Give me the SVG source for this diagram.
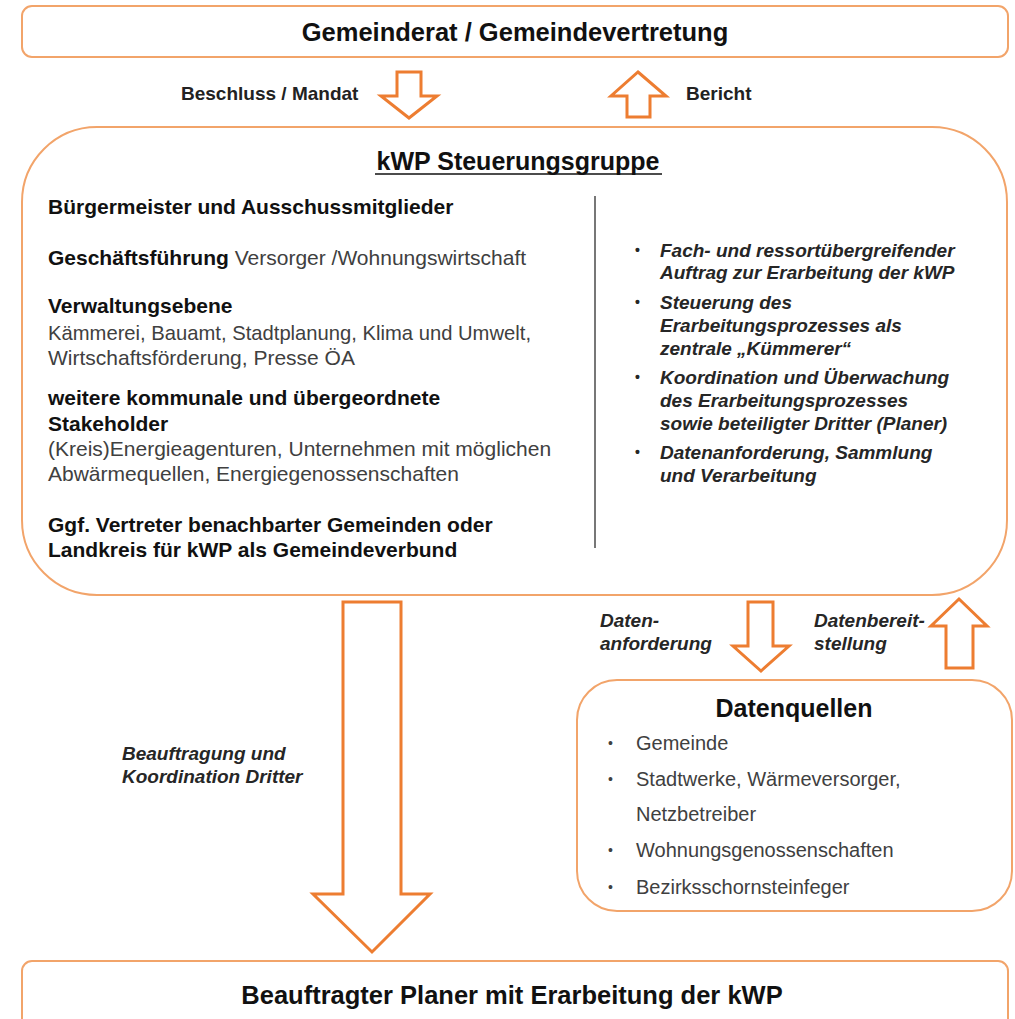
<svg xmlns="http://www.w3.org/2000/svg" width="1015" height="1019" viewBox="0 0 1015 1019">
<style>
text{font-family:"Liberation Sans",Arial,sans-serif}
.box{fill:#fff;stroke:#F2A46A;stroke-width:2}
.arr{fill:#fff;stroke:#ED7D31;stroke-width:3;stroke-linejoin:miter}
.h1{font-size:25.5px;font-weight:bold;fill:#111;text-anchor:middle}
.lbl{font-size:19px;font-weight:bold;fill:#222}
.b{font-size:21px;font-weight:bold;fill:#111}
.n{font-size:21px;fill:#404040}
.it{font-size:19px;font-weight:bold;font-style:italic;fill:#262626}
.li{font-size:20px;fill:#404040}
.dot{font-size:14px;font-style:normal}
</style>
<rect width="1015" height="1019" fill="#fff"/>
<g id="gemeinderat">
<rect class="box" x="22" y="6" width="986" height="51" rx="10"/>
<text class="h1" x="515" y="41">Gemeinderat / Gemeindevertretung</text>
</g>
<g id="steuerungsgruppe">
<rect class="box" x="22" y="127" width="985" height="468" rx="75"/>
<text class="h1" x="518" y="170" style="font-size:25px">kWP Steuerungsgruppe</text>
<line x1="375" y1="174" x2="662" y2="174" stroke="#111" stroke-width="1.6"/>
<line x1="595" y1="196" x2="595" y2="548" stroke="#555" stroke-width="1.6"/>
<text class="b" x="48" y="214">Bürgermeister und Ausschussmitglieder</text>
<text x="48" y="265"><tspan class="b">Geschäftsführung</tspan><tspan class="n"> Versorger /Wohnungswirtschaft</tspan></text>
<text class="b" x="48" y="313">Verwaltungsebene</text>
<text class="n" x="48" y="340" textLength="483" lengthAdjust="spacingAndGlyphs">Kämmerei, Bauamt, Stadtplanung, Klima und Umwelt,</text>
<text class="n" x="48" y="365">Wirtschaftsförderung, Presse ÖA</text>
<text class="b" x="48" y="405">weitere kommunale und übergeordnete</text>
<text class="b" x="48" y="431">Stakeholder</text>
<text class="n" x="48" y="456">(Kreis)Energieagenturen, Unternehmen mit möglichen</text>
<text class="n" x="48" y="481">Abwärmequellen, Energiegenossenschaften</text>
<text class="b" x="48" y="532">Ggf. Vertreter benachbarter Gemeinden oder</text>
<text class="b" x="48" y="557">Landkreis für kWP als Gemeindeverbund</text>
<g class="it">
<text class="dot" x="635" y="255">•</text>
<text x="660" y="257">Fach- und ressortübergreifender</text>
<text x="660" y="279">Auftrag zur Erarbeitung der kWP</text>
<text class="dot" x="635" y="307">•</text>
<text x="660" y="309">Steuerung des</text>
<text x="660" y="332">Erarbeitungsprozesses als</text>
<text x="660" y="355">zentrale „Kümmerer“</text>
<text class="dot" x="635" y="382">•</text>
<text x="660" y="384">Koordination und Überwachung</text>
<text x="660" y="407">des Erarbeitungsprozesses</text>
<text x="660" y="430">sowie beteiligter Dritter (Planer)</text>
<text class="dot" x="635" y="457">•</text>
<text x="660" y="459">Datenanforderung, Sammlung</text>
<text x="660" y="482">und Verarbeitung</text>
</g>
</g>
<g id="datenquellen">
<rect class="box" x="577" y="680" width="435" height="231" rx="40"/>
<text class="h1" x="794" y="717" style="font-size:25px">Datenquellen</text>
<g class="li">
<text class="dot" x="608" y="748">•</text><text x="636" y="750">Gemeinde</text>
<text class="dot" x="608" y="784">•</text><text x="636" y="786">Stadtwerke, Wärmeversorger,</text>
<text x="636" y="821">Netzbetreiber</text>
<text class="dot" x="608" y="855">•</text><text x="636" y="857">Wohnungsgenossenschaften</text>
<text class="dot" x="608" y="892">•</text><text x="636" y="894">Bezirksschornsteinfeger</text>
</g>
</g>
<g id="planer">
<rect class="box" x="22" y="961" width="986" height="80" rx="10"/>
<text class="h1" x="512" y="1004">Beauftragter Planer mit Erarbeitung der kWP</text>
</g>
<g id="connectors">
<polygon class="arr" points="397,72 421,72 421,96 437,96 409,118 381,96 397,96"/>
<text class="lbl" x="181" y="100">Beschluss / Mandat</text>
<polygon class="arr" points="638,72 666,96 650,96 650,117 627,117 627,96 611,96"/>
<text class="lbl" x="686" y="100">Bericht</text>
<polygon class="arr" points="343,602 401,602 401,894 430,894 372,952 313,894 343,894"/>
<text class="it" x="122" y="760">Beauftragung und</text>
<text class="it" x="122" y="783">Koordination Dritter</text>
<polygon class="arr" points="748,602 773,602 773,646 789,646 761,671 733,646 748,646"/>
<text class="it" x="600" y="627">Daten-</text>
<text class="it" x="600" y="650">anforderung</text>
<polygon class="arr" points="959,599 987,626 973,626 973,668 946,668 946,626 931,626"/>
<text class="it" x="814" y="627">Datenbereit-</text>
<text class="it" x="814" y="650">stellung</text>
</g>
</svg>
